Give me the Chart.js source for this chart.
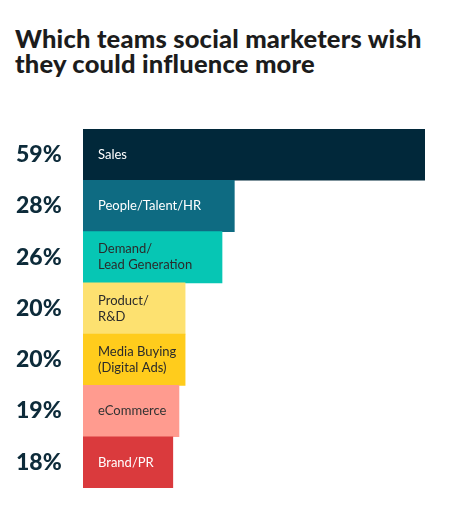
<!DOCTYPE html>
<html>
<head>
<meta charset="utf-8">
<script src="https://cdn.jsdelivr.net/npm/chart.js@4"></script>
<style>
  html, body { margin: 0; padding: 0; background: #fff; }
  #wrap { position: relative; width: 452px; height: 510px; }
  #title {
    position: absolute; left: 15px; top: 26px; margin: 0;
    font-family: "Lato", sans-serif; font-weight: 900; font-size: 25.5px;
    line-height: 25px; color: #1c1c1c; letter-spacing: 0.2px;
  }
  canvas { position: absolute; left: 0; top: 0; }
</style>
</head>
<body>
<div id="wrap">
  <h1 id="title">Which teams social marketers wish<br>they could influence more</h1>
  <canvas id="chart" width="452" height="510"></canvas>
</div>
<script>
const categories = [
  ["Sales"],
  ["People/Talent/HR"],
  ["Demand/", "Lead Generation"],
  ["Product/", "R&D"],
  ["Media Buying", "(Digital Ads)"],
  ["eCommerce"],
  ["Brand/PR"],
];
const shares = [59, 28, 26, 20, 20, 19, 18];
const tickLabels = ["59%", "28%", "26%", "20%", "20%", "19%", "18%"];

const barColors = ["#01283a", "#0e6b82", "#06c6b4", "#fde170", "#ffcc1c", "#ff9b8f", "#da3a3d"];
const textColors = ["#ffffff", "#ffffff", "#2b2b2b", "#2b2b2b", "#2b2b2b", "#333333", "#ffffff"];

// writes the category names inside each bar
const insideLabels = {
  id: "insideLabels",
  afterDatasetsDraw(chart) {
    const ctx = chart.ctx;
    const meta = chart.getDatasetMeta(0);
    const left = chart.chartArea.left;
    ctx.save();
    ctx.font = "13px Lato, sans-serif";
    ctx.textBaseline = "middle";
    ctx.textAlign = "left";
    meta.data.forEach((bar, i) => {
      const lines = categories[i];
      const lh = 16;
      const top = bar.y - (lines.length - 1) * lh / 2;
      ctx.fillStyle = textColors[i];
      lines.forEach((t, j) => ctx.fillText(t, left + 15, top + j * lh));
    });
    ctx.restore();
  }
};

new Chart(document.getElementById("chart"), {
  type: "bar",
  data: {
    labels: categories.map(c => c.join(" ")),
    datasets: [{
      data: shares,
      backgroundColor: barColors,
      borderWidth: 0,
      barPercentage: 1,
      categoryPercentage: 1,
    }],
  },
  options: {
    indexAxis: "y",
    responsive: false,
    animation: false,
    layout: { padding: { top: 129, bottom: 22, right: 27, left: 16 } },
    plugins: { legend: { display: false }, tooltip: { enabled: false } },
    scales: {
      x: {
        display: false,
        min: 3.4,
        max: 59,
      },
      y: {
        grid: { display: false, drawTicks: false },
        border: { display: false },
        afterFit(scale) { scale.width = 67; },
        ticks: {
          padding: 0,
          crossAlign: "far",
          color: "#0d2b3a",
          font: { family: "Lato", weight: "900", size: 23 },
          callback: (v, i) => tickLabels[i],
        },
      },
    },
  },
  plugins: [insideLabels],
});
</script>
</body>
</html>
